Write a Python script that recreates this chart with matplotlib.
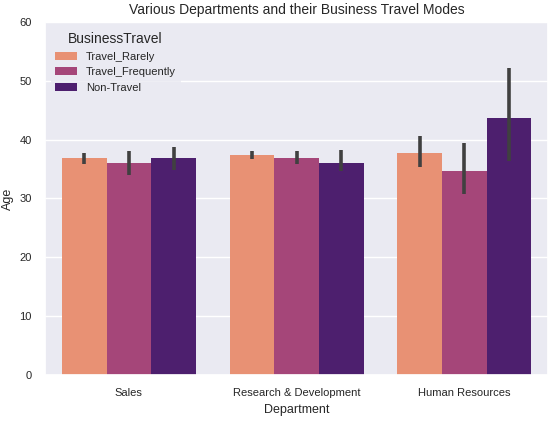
import matplotlib
matplotlib.use("Agg")
import matplotlib.pyplot as plt
import seaborn as sns
import numpy as np

departments = ["Sales", "Research & Development", "Human Resources"]
modes = ["Travel_Rarely", "Travel_Frequently", "Non-Travel"]
means = {
    "Travel_Rarely": [36.8, 37.4, 37.8],
    "Travel_Frequently": [36.0, 36.8, 34.7],
    "Non-Travel": [36.8, 36.1, 43.7],
}
lows = {
    "Travel_Rarely": [35.8, 36.7, 35.3],
    "Travel_Frequently": [34.0, 35.8, 30.7],
    "Non-Travel": [34.8, 34.6, 36.3],
}
highs = {
    "Travel_Rarely": [37.7, 38.1, 40.6],
    "Travel_Frequently": [38.0, 38.1, 39.4],
    "Non-Travel": [38.8, 38.2, 52.2],
}

sns.set_theme(style="darkgrid")
plt.rcParams['font.family'] = ['Liberation Sans', 'DejaVu Sans']
colors = [sns.desaturate(c, 0.75) for c in sns.color_palette("magma_r", 3)]
fig, ax = plt.subplots(figsize=(5.56, 4.25), dpi=100)
x = np.arange(len(departments))
w = 0.8 / 3
for i, m in enumerate(modes):
    pos = x + (i - 1) * w
    ax.bar(pos, means[m], width=w, color=colors[i], label=m, linewidth=0)
    ax.vlines(pos, lows[m], highs[m], color="#404040", lw=2.6)
ax.grid(axis="x", visible=False)
ax.set_xticks(x)
ax.set_xticklabels(departments, fontsize=8)
ax.tick_params(axis="y", labelsize=8)
ax.set_ylim(0, 60)
ax.set_xlim(-0.5, 2.5)
ax.set_xlabel("Department", fontsize=9)
ax.set_ylabel("Age", fontsize=9)
ax.set_title("Various Departments and their Business Travel Modes", fontsize=10)
leg = ax.legend(title="BusinessTravel", fontsize=8, title_fontsize=10, loc="upper left", frameon=True)
leg.get_frame().set_linewidth(0)
fig.subplots_adjust(left=0.081, right=0.986, top=0.948, bottom=0.118)
fig.savefig("out.png", dpi=100)
